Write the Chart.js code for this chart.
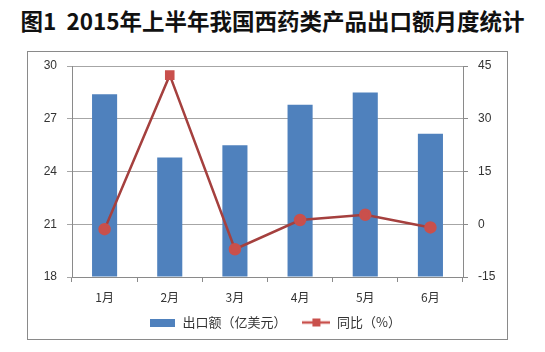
<!DOCTYPE html>
<html>
<head>
<meta charset="utf-8">
<script src="https://cdn.jsdelivr.net/npm/chart.js@4"></script>
<style>
  body { margin: 0; background: #fff; width: 545px; height: 352px; position: relative; overflow: hidden; }
  #title { position: absolute; left: 0; top: 4px; width: 545px; text-align: center;
           font: bold 22.5px "Noto Sans CJK SC", sans-serif; color: #111; white-space: nowrap; }
  #box { position: absolute; left: 27px; top: 51px; width: 479px; height: 287px; border: 1px solid #8a8a8a; }
  #box canvas { display: block; }
</style>
</head>
<body>
<div id="title">图1&nbsp;&nbsp;2015年上半年我国西药类产品出口额月度统计</div>
<div id="box"><canvas id="chart" width="479" height="287"></canvas></div>
<script>
// categories and series
var months = ['1月', '2月', '3月', '4月', '5月', '6月'];
var exportValues = [28.4, 24.8, 25.5, 27.8, 28.5, 26.15]; // 出口额（亿美元）
var yoyValues = [-1.4, 42.4, -7.1, 1.2, 2.7, -0.9];       // 同比（%）
var markerStyles = ['circle', 'rect', 'circle', 'circle', 'circle', 'circle'];

var barColor = '#4F81BD';
var lineColor = '#A5403E';
var markerColor = '#C9504C';

// small icons for the legend
function makeBarIcon() {
  var c = document.createElement('canvas');
  c.width = 25; c.height = 8;
  var g = c.getContext('2d');
  g.fillStyle = barColor;
  g.fillRect(0, 0, 25, 8);
  return c;
}
function makeLineIcon() {
  var c = document.createElement('canvas');
  c.width = 28; c.height = 10;
  var g = c.getContext('2d');
  g.strokeStyle = markerColor;
  g.lineWidth = 2.5;
  g.beginPath(); g.moveTo(0, 5); g.lineTo(28, 5); g.stroke();
  g.fillStyle = markerColor;
  g.fillRect(10, 1, 8, 8);
  return c;
}
var barIcon = makeBarIcon();
var lineIcon = makeLineIcon();

var tickFont = { family: '"Liberation Sans", Arial, sans-serif', size: 12 };
var cjkFont = { family: '"Noto Sans CJK SC", sans-serif', size: 12 };

// fix axis widths and drop the extra label overflow so the plot area lands where it should
function fixY(width) {
  return function (s) {
    s.width = width;
    s.paddingTop = 0;
    s.paddingBottom = 0;
  };
}

var ctx = document.getElementById('chart').getContext('2d');
var chart = new Chart(ctx, {
  data: {
    labels: months,
    datasets: [{
      type: 'line',
      label: '同比（%）',
      data: yoyValues,
      yAxisID: 'y1',
      borderColor: lineColor,
      borderWidth: 2.5,
      pointStyle: markerStyles,
      pointRadius: 5,
      pointBackgroundColor: markerColor,
      pointBorderColor: markerColor,
      tension: 0,
      order: 0
    }, {
      type: 'bar',
      label: '出口额（亿美元）',
      data: exportValues,
      yAxisID: 'y',
      backgroundColor: barColor,
      borderWidth: 0,
      barPercentage: 0.385,
      categoryPercentage: 1,
      base: 18,
      order: 1
    }]
  },
  options: {
    responsive: false,
    animation: false,
    layout: { padding: { top: 14, bottom: 0, left: 14, right: 0 } },
    plugins: {
      tooltip: { enabled: false },
      legend: {
        position: 'bottom',
        labels: {
          usePointStyle: true,
          pointStyleWidth: 28,
          padding: 10,
          color: '#333',
          font: { family: '"Noto Sans CJK SC", sans-serif', size: 13 },
          generateLabels: function (ch) {
            return [
              { text: '出口额（亿美元）  ', pointStyle: barIcon, datasetIndex: 1, fontColor: '#333', lineWidth: 0, hidden: false },
              { text: '同比（%）', pointStyle: lineIcon, datasetIndex: 0, fontColor: '#333', lineWidth: 0, hidden: false }
            ];
          }
        }
      }
    },
    scales: {
      x: {
        offset: true,
        grid: { drawOnChartArea: false, color: '#8a8a8a', tickLength: 5, offset: true },
        border: { color: '#8a8a8a' },
        ticks: { color: '#333', font: cjkFont, padding: 8 },
        afterFit: function (s) { s.height = 29; }
      },
      y: {
        position: 'left',
        min: 18, max: 30,
        ticks: { stepSize: 3, color: '#333', font: tickFont, padding: 10 },
        grid: { color: '#a6a6a6', tickLength: 5 },
        border: { color: '#8a8a8a' },
        afterFit: fixY(30)
      },
      y1: {
        position: 'right',
        min: -15, max: 45,
        ticks: { stepSize: 15, color: '#333', font: tickFont, padding: 10 },
        grid: { drawOnChartArea: false, color: '#8a8a8a', tickLength: 5 },
        border: { color: '#8a8a8a' },
        afterFit: fixY(44)
      }
    }
  }
});
</script>
</body>
</html>
